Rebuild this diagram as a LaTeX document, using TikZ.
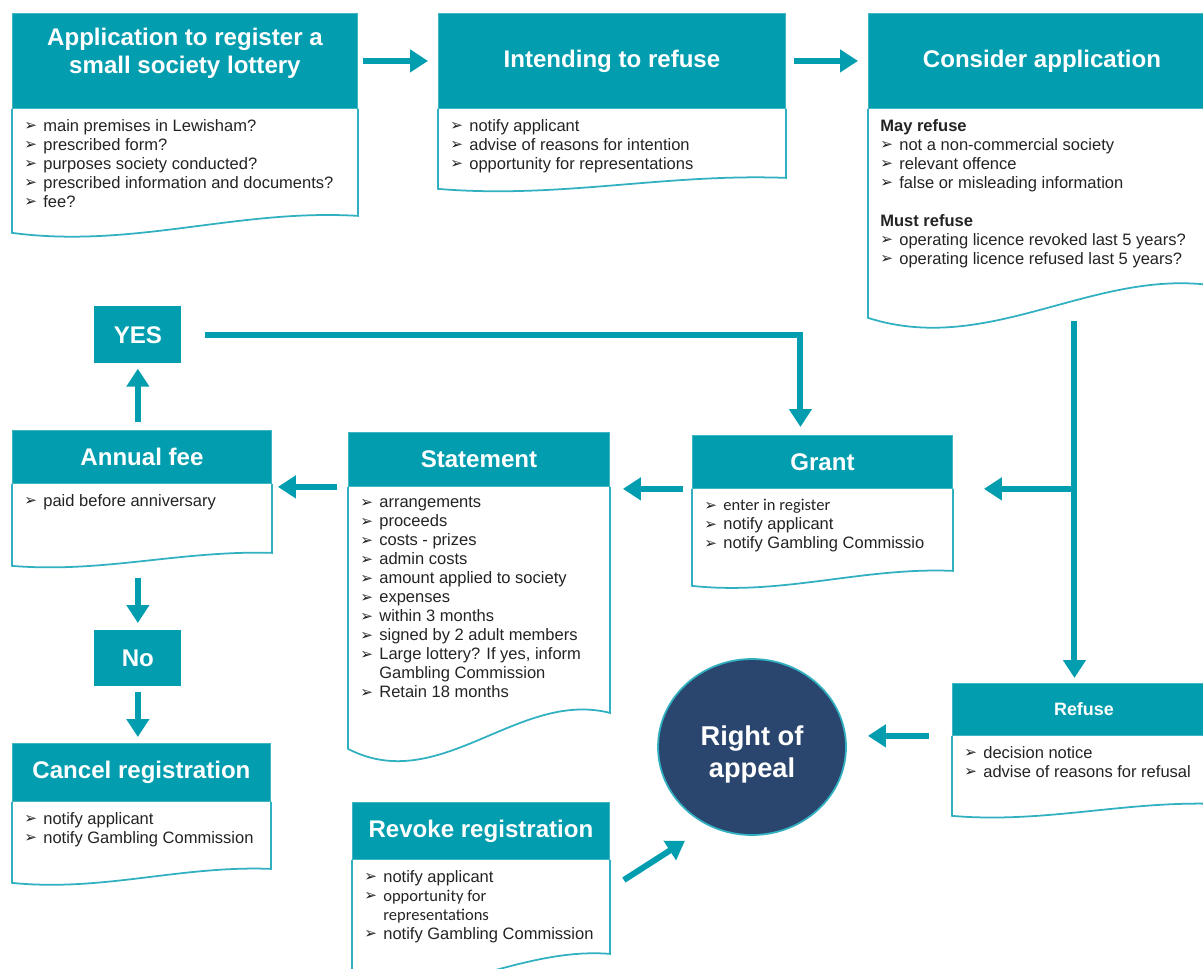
\documentclass[tikz,border=0pt]{standalone}
\usepackage{fontspec}
\setmainfont{Liberation Sans}
\newfontfamily\dingfont{DejaVu Sans}
\newfontfamily\narrowfont{Carlito}
\usetikzlibrary{arrows.meta,calc,positioning,shapes.geometric}
\definecolor{lotteal}{RGB}{2,158,175}
\definecolor{lotline}{RGB}{48,176,192}
\definecolor{lotnavy}{RGB}{43,70,110}
\definecolor{lottext}{RGB}{35,35,35}
\tikzset{
	headbox/.style={fill=lotteal,draw=lotteal!75!white,line width=0.5pt,anchor=north west,inner sep=0pt,
		text=white,align=center,font=\fontsize{13.7}{15.7}\selectfont\bfseries},
	bodyline/.style={draw=lotline,line width=1pt},
	listtext/.style={anchor=north west,inner sep=0pt,text=lottext,align=left,font=\fontsize{9.4}{10.8}\selectfont},
	flow/.style={draw=lotteal,line width=0.12cm,-{Triangle[length=0.36cm,width=0.44cm]}},
	decision/.style={fill=lotteal,anchor=north west,inner sep=0pt,text=white,font=\fontsize{13.7}{15.7}\selectfont\bfseries},
	appealnode/.style={ellipse,fill=lotnavy,draw=lotline,line width=1pt,inner sep=0pt,text=white,align=center,
		font=\fontsize{15.5}{18}\selectfont\bfseries},
}
\newcommand{\itm}{\makebox[0.38cm][l]{\raisebox{0.05ex}{\dingfont\fontsize{8.6}{8.6}\selectfont ➢}}}
% header: [options]{name}{left}{right}{top}{bottom}{title}
\newcommand{\headbox}[7][]{%
	\node[headbox,minimum width={(#4-#3)*0.02cm},minimum height={(#6-#5)*0.02cm},#1] (#2) at (#3,#5) {#7};}
% body: {name}{right drop}{left drop}{dip}{lines}
\newcommand{\listbody}[5]{%
	\coordinate (#1-br) at ($(#1.south east)+(0,#2)$);
	\coordinate (#1-bl) at ($(#1.south west)+(0,#3)$);
	\draw[bodyline] (#1.south east) -- (#1-br)
		.. controls ($(#1-bl)!0.65!(#1-br)+(0,{-0.6*#4})$) and ($(#1-bl)!0.35!(#1-br)+(0,#4)$) .. (#1-bl)
		-- (#1.south west);
	\node[listtext] (#1-list) at ($(#1.south west)+(12,10)$) {#5};}

\begin{document}
\begin{tikzpicture}[x=0.02cm,y=-0.02cm]
\clip (0,0) rectangle (1203,969);

\headbox[text depth=0.4cm]{app}{12}{357}{13}{108}{Application to register a\\small society lottery}
\listbody{app}{107}{124}{22}{\itm main premises in Lewisham?\\\itm prescribed form?\\\itm purposes society conducted?\\
	\itm prescribed information and documents?\\\itm fee?}

\headbox{intend}{438}{785}{13}{108}{Intending to refuse}
\listbody{intend}{69}{80}{14}{\itm notify applicant\\\itm advise of reasons for intention\\\itm opportunity for representations}

\headbox{cons}{868}{1215}{13}{108}{Consider application}
\listbody{cons}{177}{209}{50}{{\bfseries May refuse}\\\itm not a non-commercial society\\\itm relevant offence\\
	\itm false or misleading information\\[10.8pt]{\bfseries Must refuse}\\\itm operating licence revoked last 5 years?\\
	\itm operating licence refused last 5 years?}

\node[decision,minimum width=1.74cm,minimum height=1.14cm] (yes) at (94,306) {YES};

\headbox{annual}{12}{271}{430}{483}{Annual fee}
\listbody{annual}{69}{82}{12}{\itm paid before anniversary}

\headbox{stmt}{348}{609}{432}{486}{Statement}
\listbody{stmt}{226}{262}{60}{\itm arrangements\\\itm proceeds\\\itm costs - prizes\\\itm admin costs\\
	\itm amount applied to society\\\itm expenses\\\itm within 3 months\\\itm signed by 2 adult members\\
	\itm Large lottery? If yes, inform\\\hspace*{0.38cm}Gambling Commission\\\itm Retain 18 months}

\headbox{grant}{692}{952}{435}{488}{Grant}
\listbody{grant}{82}{97}{15}{\narrowfont\itm enter in register\\\itm notify applicant\\\itm notify Gambling Commissio}

\node[decision,minimum width=1.74cm,minimum height=1.12cm] (no) at (94,630) {No};

\headbox{cancel}{12}{270}{743}{801}{Cancel registration}
\listbody{cancel}{67}{81}{14}{\itm notify applicant\\\itm notify Gambling Commission}

\headbox[font=\fontsize{10.2}{12}\selectfont\bfseries]{refuse}{952}{1215}{683}{735}{Refuse}
\listbody{refuse}{68}{80}{12}{\itm decision notice\\\itm advise of reasons for refusal}

\node[appealnode,minimum width=3.76cm,minimum height=3.52cm,text height=1.2cm,text depth=0pt] (appeal) at (752,747) {Right of\\appeal};

\headbox{revoke}{352}{609}{802}{859}{Revoke registration}
\listbody{revoke}{94}{125}{30}{\itm notify applicant\\\itm {\narrowfont opportunity for}\\
	\hspace*{0.38cm}{\narrowfont representations}\\\itm notify Gambling Commission}

\draw[flow,shorten <=0.1cm,shorten >=0.2cm] (app.east) -- (intend.west);
\draw[flow,shorten <=0.16cm,shorten >=0.2cm] (intend.east) -- (cons.west);
\draw[flow,shorten <=0.46cm,shorten >=0.16cm] (yes.east) -| ([xshift=-0.44cm]grant.north);
\draw[flow,shorten <=0.16cm,shorten >=0.1cm] (yes.south |- annual.north) -- (yes.south);
\draw[flow,shorten <=0.24cm,shorten >=0.14cm] (no.north |- annual-bl) -- (no.north);
\draw[flow,shorten <=0.1cm,shorten >=0.12cm] (no.south) -- (no.south |- cancel.north);
\draw[flow,shorten <=0.18cm,shorten >=0.26cm] (grant.south west) -- (grant.south west -| stmt.east);
\draw[flow,shorten <=0.22cm,shorten >=0.12cm] (stmt.south west) -- (stmt.south west -| annual.east);
\coordinate (drop) at ([xshift=-0.19cm]refuse.north);
\coordinate (split) at (drop |- grant.south east);
\draw[flow,shorten <=0.06cm,shorten >=0.1cm] (drop |- cons-bl) -- (drop);
\draw[flow,shorten >=0.62cm] (split) -- (grant.south east);
\draw[flow,shorten <=0.46cm,shorten >=0.42cm] (refuse.south west) -- (refuse.south west -| appeal.east);
\coordinate (rvfrom) at ($(revoke.north east)+(14,78)$);
\coordinate (rvto) at ($(appeal.south west)+(0,31)$);
\draw[flow] (rvfrom) -- (rvto);
\end{tikzpicture}
\end{document}
